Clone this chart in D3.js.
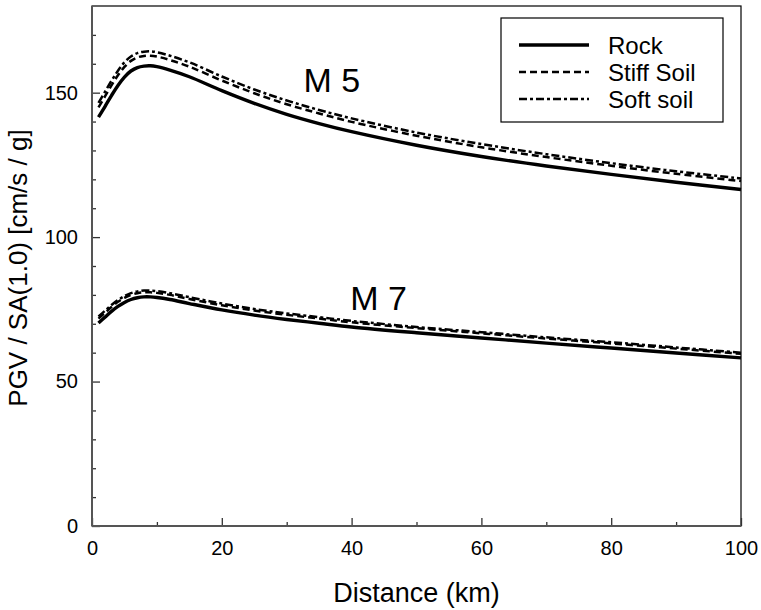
<!DOCTYPE html>
<html>
<head>
<meta charset="utf-8">
<script src="https://cdn.jsdelivr.net/npm/d3@7"></script>
<style>
  body { margin: 0; background: #fff; }
  text { font-family: "Liberation Sans", Arial, Helvetica, sans-serif; fill: #000; }
</style>
</head>
<body>
<div id="chart"></div>
<script>
// distance samples (km)
var distance = [1, 2, 3, 4, 5, 6, 7, 8, 9, 10, 12, 15, 20, 25, 30, 35, 40, 50, 60, 70, 80, 90, 100];

// PGV / SA(1.0) ratios
var rockM5  = [141.5, 145.2, 149.0, 152.5, 155.4, 157.5, 158.7, 159.2, 159.3, 159.0, 157.8, 155.5, 150.7, 146.3, 142.5, 139.3, 136.5, 131.8, 127.9, 124.6, 121.7, 119.0, 116.5];
var stiffM5 = [144.9, 148.7, 152.5, 156.0, 158.9, 161.0, 162.2, 162.7, 162.8, 162.5, 161.3, 159.0, 154.2, 149.8, 146.0, 142.8, 139.9, 135.1, 131.1, 127.7, 124.7, 121.9, 119.4];
var softM5  = [146.5, 150.3, 154.1, 157.6, 160.5, 162.5, 163.7, 164.2, 164.3, 164.0, 162.8, 160.5, 155.6, 151.1, 147.3, 144.0, 141.1, 136.2, 132.2, 128.7, 125.6, 122.8, 120.3];

var rockM7  = [70.3, 72.3, 74.3, 76.0, 77.4, 78.4, 79.0, 79.3, 79.3, 79.1, 78.4, 77.0, 74.8, 73.0, 71.5, 70.2, 68.9, 66.9, 65.1, 63.3, 61.6, 59.9, 58.2];
var stiffM7 = [71.8, 73.8, 75.8, 77.6, 79.0, 80.0, 80.6, 80.9, 80.9, 80.7, 80.0, 78.6, 76.4, 74.6, 73.1, 71.8, 70.5, 68.5, 66.7, 64.9, 63.2, 61.4, 59.6];
var softM7  = [72.5, 74.5, 76.5, 78.2, 79.6, 80.6, 81.2, 81.5, 81.5, 81.3, 80.6, 79.2, 77.0, 75.1, 73.6, 72.3, 71.0, 68.9, 67.1, 65.3, 63.6, 61.8, 60.0];

var legendNames = ["Rock", "Stiff Soil", "Soft soil"];
var xMajor = [0, 20, 40, 60, 80, 100];
var xMinor = [10, 30, 50, 70, 90];
var yMajor = [0, 50, 100, 150];
var yMinor = [10, 20, 30, 40, 60, 70, 80, 90, 110, 120, 130, 140, 160, 170];

// line styles per site class
var styles = {
  "Rock":       { width: 3.4, dash: null },
  "Stiff Soil": { width: 2.5, dash: "7,4" },
  "Soft soil":  { width: 2.5, dash: "8,3,3,3" }
};

var series = [
  { name: "Rock", values: rockM5 },
  { name: "Stiff Soil", values: stiffM5 },
  { name: "Soft soil", values: softM5 },
  { name: "Rock", values: rockM7 },
  { name: "Stiff Soil", values: stiffM7 },
  { name: "Soft soil", values: softM7 }
];

var margin = { top: 6, right: 20, bottom: 84, left: 92 },
  width = 761 - margin.left - margin.right,
  height = 610 - margin.top - margin.bottom;

var svg = d3.select("#chart")
  .append("svg")
  .attr("width", 761)
  .attr("height", 610)
  .append("g")
  .attr("transform", "translate(" + margin.left + "," + margin.top + ")");

var x = d3.scaleLinear().domain([0, 100]).range([0, width]);
var y = d3.scaleLinear().domain([0, 180]).range([height, 0]);

// frame
svg.append("rect")
  .attr("width", width)
  .attr("height", height)
  .attr("fill", "none")
  .attr("stroke", "#000")
  .attr("stroke-width", 1.2);

// x axis (ticks point inward)
var gx = svg.append("g")
  .attr("transform", "translate(0," + height + ")")
  .call(d3.axisBottom(x).tickValues(xMajor).tickSize(-8).tickPadding(15).tickFormat(d3.format("d")));
var gxm = svg.append("g")
  .attr("transform", "translate(0," + height + ")")
  .call(d3.axisBottom(x).tickValues(xMinor).tickSize(-4).tickFormat(""));

// y axis
var gy = svg.append("g")
  .call(d3.axisLeft(y).tickValues(yMajor).tickSize(-8).tickPadding(14).tickFormat(d3.format("d")));
var gym = svg.append("g")
  .call(d3.axisLeft(y).tickValues(yMinor).tickSize(-4).tickFormat(""));

[gx, gxm, gy, gym].forEach(function (g) {
  g.select(".domain").remove();
  g.selectAll(".tick line").attr("stroke", "#333").attr("stroke-width", 1.3);
  g.selectAll(".tick text").style("font-size", "20px").attr("fill", "#000");
});

// left and bottom axis lines, slightly heavier grey
svg.append("line")
  .attr("x1", 0).attr("x2", 0).attr("y1", 0).attr("y2", height)
  .attr("stroke", "#555").attr("stroke-width", 2);
svg.append("line")
  .attr("x1", 0).attr("x2", width).attr("y1", height).attr("y2", height)
  .attr("stroke", "#555").attr("stroke-width", 2);

// curves
var line = d3.line()
  .curve(d3.curveCatmullRom.alpha(0.5))
  .x(function (d, i) { return x(distance[i]); })
  .y(function (d) { return y(d); });

series.forEach(function (s) {
  var st = styles[s.name];
  svg.append("path")
    .datum(s.values)
    .attr("fill", "none")
    .attr("stroke", "#000")
    .attr("stroke-width", st.width)
    .attr("stroke-dasharray", st.dash)
    .attr("d", line);
});

// magnitude labels
svg.append("text")
  .attr("x", x(32.6)).attr("y", y(150.2))
  .style("font-size", "34px")
  .text("M 5");
svg.append("text")
  .attr("x", x(39.8)).attr("y", y(74.8))
  .style("font-size", "34px")
  .text("M 7");

// legend
var legend = svg.append("g")
  .attr("transform", "translate(" + (501 - margin.left) + "," + (18 - margin.top) + ")");
legend.append("rect")
  .attr("width", 222)
  .attr("height", 104)
  .attr("fill", "#fff")
  .attr("stroke", "#000")
  .attr("stroke-width", 1.2);
legendNames.forEach(function (name, i) {
  var st = styles[name];
  var yy = 27 + i * 27;
  legend.append("line")
    .attr("x1", 18).attr("x2", 88)
    .attr("y1", yy).attr("y2", yy)
    .attr("stroke", "#000")
    .attr("stroke-width", st.width)
    .attr("stroke-dasharray", st.dash);
  legend.append("text")
    .attr("x", 107).attr("y", yy)
    .attr("dy", "0.36em")
    .style("font-size", "24px")
    .text(name);
});

// axis titles
svg.append("text")
  .attr("x", width / 2)
  .attr("y", height + 76)
  .attr("text-anchor", "middle")
  .style("font-size", "27px")
  .text("Distance (km)");
svg.append("text")
  .attr("transform", "translate(" + (-65) + "," + (262) + ") rotate(-90)")
  .attr("text-anchor", "middle")
  .style("font-size", "26px")
  .text("PGV / SA(1.0) [cm/s / g]");
</script>
</body>
</html>
